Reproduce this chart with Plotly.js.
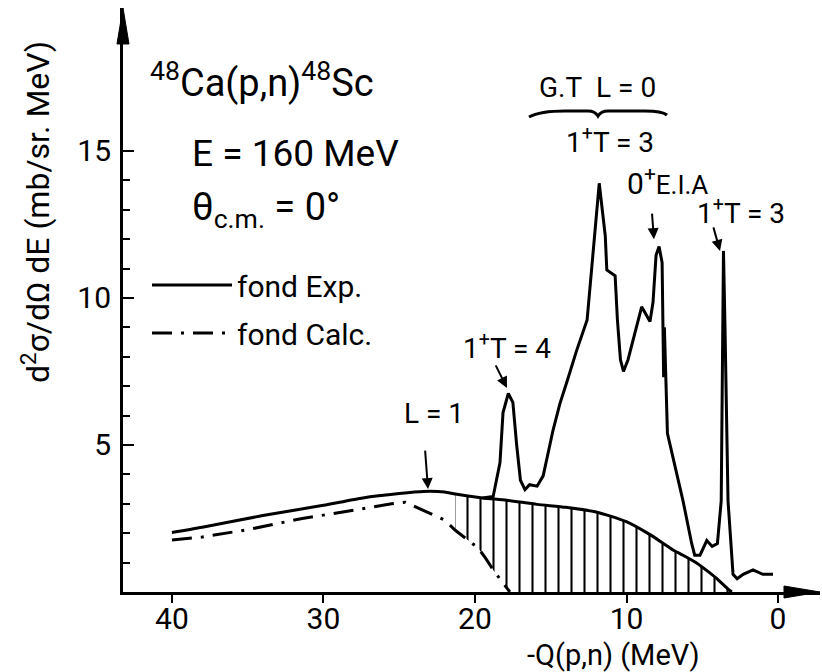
<!DOCTYPE html>
<html>
<head>
<meta charset="utf-8">
<script src="https://cdn.plot.ly/plotly-3.0.1.min.js"></script>
<style>html,body{margin:0;padding:0;background:#fff;}</style>
</head>
<body>
<div id="chart" style="width:822px;height:672px;"></div>
<script>
// ---- data (x = -Q(p,n) in MeV, y = d2sigma/dOmega dE in mb/sr.MeV)
const bgX = [40, 38, 34, 30, 27.4, 25, 23.4, 22, 21.3, 19.5, 17.9, 15.9, 14, 12, 10.05, 8.45, 6.9, 6.27, 5.35, 4.5, 4.0, 3.3, 3.05];
const bgY = [2.02, 2.2, 2.6, 2.95, 3.2, 3.35, 3.42, 3.4, 3.33, 3.2, 3.12, 2.98, 2.88, 2.72, 2.4, 1.95, 1.42, 1.25, 0.98, 0.65, 0.44, 0.1, 0];

const calcX = [40, 38, 35, 31.4, 28, 25.5, 24.6, 23.5, 22, 21.3, 19.8, 19.3, 18.8, 17.7];
const calcY = [1.77, 1.87, 2.12, 2.5, 2.78, 3.0, 3.05, 2.8, 2.45, 2.1, 1.5, 1.15, 0.75, 0];

const specX = [19.5, 18.8, 18.35, 18.15, 17.8, 17.5, 17.25, 17.0, 16.7, 16.4, 15.9, 15.5, 14.85, 14.4, 13.9, 13.3, 12.6, 12.2, 11.8, 11.4, 11.3, 10.75, 10.6, 10.4, 10.2, 9.9, 9.3, 9.0, 8.45, 8.25, 8.05, 7.85, 7.65, 7.6, 7.55, 7.5, 7.42, 7.3, 6.9, 6.27, 5.7, 5.5, 5.15, 4.7, 4.35, 4.0, 3.75, 3.65, 3.6, 3.5, 3.3, 2.97, 2.7, 2.3, 1.65, 1.0, 0.33];
const specY = [3.2, 3.25, 4.4, 6.1, 6.75, 6.45, 5.0, 3.8, 3.48, 3.65, 3.6, 3.95, 5.5, 6.4, 7.2, 8.2, 9.25, 11.5, 13.9, 12.1, 10.95, 10.75, 9.25, 7.9, 7.5, 7.9, 9.15, 9.7, 9.2, 9.85, 11.45, 11.75, 11.2, 9.0, 7.3, 9.0, 7.2, 5.4, 4.5, 3.1, 1.65, 1.25, 1.25, 1.75, 1.55, 1.65, 3.1, 9.0, 11.6, 9.0, 3.1, 0.6, 0.45, 0.6, 0.75, 0.6, 0.6];

const hatchStart = 21.3;   // left edge of the hatched (L=1) region

const xTickVals = [0, 10, 20, 30, 40];
const xTickText = ['0', '10', '20', '30', '40'];
const yTickVals = [5, 10, 15];
const yTickText = ['5', '10', '15'];
const yMinorVals = [1, 2, 3, 4, 6, 7, 8, 9, 11, 12, 13, 14];

// ---- hatched region polygon: upper = experimental background, lower = calculated background / axis
const hx = [], hy = [];
bgX.forEach((x, i) => { if (x <= hatchStart) { hx.push(x); hy.push(bgY[i]); } });
hx.push(calcX[calcX.length - 1]); hy.push(0);
for (let i = calcX.length - 1; i >= 0; i--) {
  if (calcX[i] <= hatchStart) { hx.push(calcX[i]); hy.push(calcY[i]); }
}

const FONT = 'Roboto, "DejaVu Sans", sans-serif';

const traces = [
  {x: hx, y: hy, type: 'scatter', mode: 'lines', fill: 'toself',
   fillcolor: 'rgba(0,0,0,0)', line: {width: 0, color: 'rgba(0,0,0,0)'},
   fillpattern: {shape: '|', size: 13, solidity: 0.16, fgcolor: '#000', bgcolor: 'rgba(0,0,0,0)'},
   showlegend: false, hoverinfo: 'skip'},
  {x: bgX, y: bgY, type: 'scatter', mode: 'lines', name: 'fond Exp.',
   line: {color: '#000', width: 3, shape: 'spline', smoothing: 0.6}, legendgroup: 'a'},
  {x: calcX, y: calcY, type: 'scatter', mode: 'lines', name: 'fond Calc.',
   line: {color: '#000', width: 3, dash: '20px,9px,3px,9px'}, legendgroup: 'b'},
  {x: specX, y: specY, type: 'scatter', mode: 'lines', name: 'spectre',
   line: {color: '#000', width: 3}, showlegend: false}
];

// pixel -> paper helpers for decorations / label placement
const L = 123, T = 8, W = 697, H = 584;
const PX = p => (p - L) / W;
const PY = p => (T + H - p) / H;

function pathFrom(cmds) {
  return cmds.map(c => c[0] + ' ' + c.slice(1).map((v, i) => (i % 2 === 0 ? PX(v) : PY(v)).toFixed(5)).join(',')).join(' ');
}

const shapes = [
  // arrowhead of the y axis
  {type: 'path', xref: 'paper', yref: 'paper', fillcolor: '#000', line: {color: '#000', width: 1},
   path: pathFrom([['M', 117, 44], ['L', 123, 8], ['L', 129, 44], ['Z']])},
  // arrowhead of the x axis
  {type: 'path', xref: 'paper', yref: 'paper', fillcolor: '#000', line: {color: '#000', width: 1},
   path: pathFrom([['M', 784, 586], ['L', 820, 592], ['L', 784, 598], ['Z']])},
  // brace under "G.T  L = 0"
  {type: 'path', xref: 'paper', yref: 'paper', line: {color: '#000', width: 3},
   path: pathFrom([['M', 529, 117], ['Q', 540, 111, 565, 111], ['L', 588, 111], ['Q', 595, 111, 598, 116],
                   ['Q', 601, 111, 608, 111], ['L', 645, 111], ['Q', 662, 111, 667, 115]])}
];

const ann = (text, px, py, size, extra) => Object.assign({
  text: text, xref: 'paper', yref: 'paper', x: PX(px), y: PY(py),
  xanchor: 'center', yanchor: 'middle', showarrow: false,
  font: {family: FONT, size: size, color: '#000'}
}, extra || {});

const arrow = (x, y, ax, ay) => ({
  text: '', xref: 'x', yref: 'y', x: x, y: y, ax: ax, ay: ay,
  showarrow: true, arrowhead: 2, arrowsize: 1.1, arrowwidth: 2, arrowcolor: '#000', standoff: 0
});

const annotations = [
  ann('<sup>48</sup>Ca(p,n)<sup>48</sup>Sc', 148, 80, 38, {xanchor: 'left'}),
  ann('E = 160 MeV', 190, 153, 37, {xanchor: 'left'}),
  ann('θ<sub>c.m.</sub> = 0°', 190, 209, 38, {xanchor: 'left'}),
  ann('G.T\u00a0\u00a0L = 0', 597, 87, 28),
  ann('1<sup>+</sup>T = 3', 610, 140, 28),
  ann('0<sup>+</sup><span style="font-size:26px">E.I.A</span>', 625, 181, 30, {xanchor: 'left'}),
  ann('1<sup>+</sup>T = 3', 741, 212, 28),
  ann('1<sup>+</sup>T = 4', 507, 346, 28),
  ann('L = 1', 434, 413, 28),
  ann('d<sup>2</sup>σ/dΩ dE (mb/sr. MeV)', 36, 212, 32, {textangle: -90}),
  ann('-Q(p,n) (MeV)', 613, 655, 29),
  arrow(8.19, 12.0, -2, -27),
  arrow(3.83, 11.6, -7, -25),
  arrow(17.89, 6.94, -12, -24),
  arrow(23.1, 3.5, -3, -40)
];

const layout = {
  width: 822, height: 672,
  margin: {l: L, r: 822 - L - W, t: T, b: 672 - T - H, pad: 0},
  paper_bgcolor: '#fff', plot_bgcolor: '#fff',
  font: {family: FONT, color: '#000'},
  showlegend: true,
  legend: {x: PX(147), y: PY(259), xanchor: 'left', yanchor: 'top', bgcolor: 'rgba(0,0,0,0)',
           borderwidth: 0, font: {family: FONT, size: 30, color: '#000'}, itemwidth: 80, tracegroupgap: 6},
  xaxis: {range: [43.23, -2.77], showline: true, linewidth: 3, linecolor: '#000', mirror: false,
          ticks: 'outside', ticklen: 8, tickwidth: 2, tickcolor: '#000',
          tickmode: 'array', tickvals: xTickVals, ticktext: xTickText, ticklabelstandoff: -10,
          tickfont: {family: FONT, size: 30, color: '#000'},
          showgrid: false, zeroline: false, fixedrange: true},
  yaxis: {range: [0, 19.86], showline: true, linewidth: 3, linecolor: '#000', mirror: false,
          ticks: 'inside', ticklen: 11, tickwidth: 2, tickcolor: '#000',
          tickmode: 'array', tickvals: yTickVals, ticktext: yTickText, ticklabelstandoff: 3,
          minor: {tickmode: 'array', tickvals: yMinorVals, ticks: 'inside', ticklen: 7, tickwidth: 2, tickcolor: '#000', showgrid: false},
          tickfont: {family: FONT, size: 30, color: '#000'},
          showgrid: false, zeroline: false, fixedrange: true},
  shapes: shapes,
  annotations: annotations
};

Plotly.newPlot('chart', traces, layout, {displayModeBar: false, staticPlot: true});
</script>
</body>
</html>
